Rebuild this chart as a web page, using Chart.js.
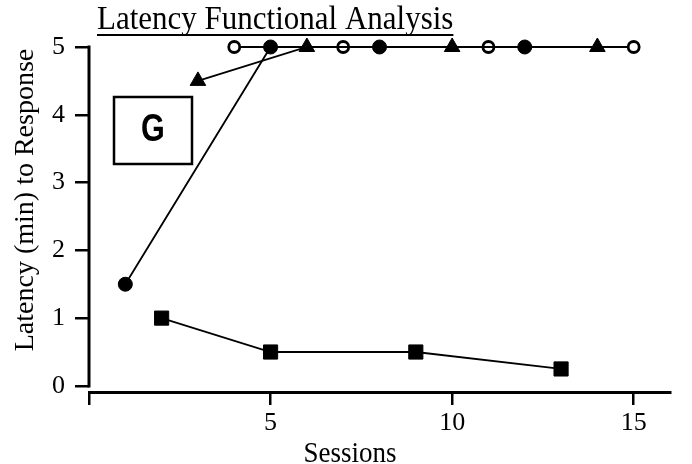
<!DOCTYPE html>
<html>
<head>
<meta charset="utf-8">
<title>Latency Functional Analysis</title>
<script src="https://cdn.jsdelivr.net/npm/chart.js@4"></script>
<style>
  html, body { margin: 0; padding: 0; background: #fff; }
  #chart { display: block; }
</style>
</head>
<body>
<canvas id="chart" width="692" height="464"></canvas>
<script>
// Sessions / latency (min) per condition
const filledCircleSessions = [1, 5, 8, 12];
const filledCircleLatency  = [1.5, 5, 5, 5];
const triangleSessions     = [3, 6, 10, 14];
const triangleLatency      = [4.5, 5, 5, 5];
const openCircleSessions   = [4, 7, 11, 15];
const openCircleLatency    = [5, 5, 5, 5];
const squareSessions       = [2, 5, 9, 13];
const squareLatency        = [1, 0.5, 0.5, 0.25];

const xTicks = [0, 5, 10, 15];
const yTicks = [0, 1, 2, 3, 4, 5];

const SERIF = "'Liberation Serif', 'Times New Roman', serif";

const toPoints = (xs, ys) => xs.map((x, i) => ({ x, y: ys[i] }));

const series = (xs, ys, style, radius, bg) => ({
  data: toPoints(xs, ys),
  borderColor: '#000',
  borderWidth: 1.8,
  pointStyle: style,
  pointRadius: radius,
  pointBackgroundColor: bg,
  pointBorderColor: '#000',
  pointBorderWidth: bg === '#fff' ? 2.8 : 1,
  showLine: true,
  fill: false,
  tension: 0,
  clip: false
});

// axis line, titles, panel label
const decorations = {
  id: 'decorations',
  afterDraw(chart) {
    const { ctx, chartArea, scales } = chart;
    ctx.save();
    ctx.strokeStyle = '#000';
    ctx.fillStyle = '#000';

    // y axis line (stops at 0, x axis sits a bit lower)
    ctx.lineWidth = 3;
    ctx.beginPath();
    ctx.moveTo(chartArea.left, scales.y.getPixelForValue(5) - 1.5);
    ctx.lineTo(chartArea.left, scales.y.getPixelForValue(0) + 1.5);
    ctx.stroke();

    // title + underline (type in the source is a bit tall)
    ctx.save();
    ctx.translate(97, 29);
    ctx.scale(1, 1.12);
    ctx.font = `31px ${SERIF}`;
    ctx.textAlign = 'left';
    ctx.textBaseline = 'alphabetic';
    const title = 'Latency Functional Analysis';
    ctx.fillText(title, 0, 0);
    const w = ctx.measureText(title).width;
    ctx.restore();
    ctx.lineWidth = 2;
    ctx.beginPath();
    ctx.moveTo(97, 35);
    ctx.lineTo(97 + w, 35);
    ctx.stroke();

    // x title
    ctx.save();
    ctx.translate(350, 462);
    ctx.scale(1, 1.1);
    ctx.font = `27px ${SERIF}`;
    ctx.textAlign = 'center';
    ctx.fillText('Sessions', 0, 0);
    ctx.restore();

    // y title
    ctx.save();
    ctx.translate(33, 200);
    ctx.rotate(-Math.PI / 2);
    ctx.font = `28px ${SERIF}`;
    ctx.textAlign = 'center';
    ctx.fillText('Latency (min) to Response', 0, 0);
    ctx.restore();

    // panel label
    ctx.lineWidth = 2.5;
    ctx.strokeRect(114, 97, 78, 67);
    ctx.save();
    ctx.translate(153, 141);
    ctx.scale(0.85, 1.1);
    ctx.font = "bold 36px 'Liberation Sans', Arial, sans-serif";
    ctx.textAlign = 'center';
    ctx.textBaseline = 'alphabetic';
    ctx.fillText('G', 0, 0);
    ctx.restore();

    ctx.restore();
  }
};

new Chart(document.getElementById('chart'), {
  type: 'scatter',
  data: {
    datasets: [
      series(filledCircleSessions, filledCircleLatency, 'circle', 7, '#000'),
      series(triangleSessions, triangleLatency, 'triangle', 9, '#000'),
      series(openCircleSessions, openCircleLatency, 'circle', 5.5, '#fff'),
      series(squareSessions, squareLatency, 'rect', 10, '#000')
    ]
  },
  options: {
    responsive: false,
    animation: false,
    layout: { padding: { top: 47, right: 22, bottom: 0, left: 0 } },
    plugins: {
      legend: { display: false },
      title: { display: false },
      tooltip: { enabled: false }
    },
    scales: {
      x: {
        type: 'linear',
        min: 0,
        max: 16,
        afterBuildTicks: (axis) => { axis.ticks = xTicks.map(v => ({ value: v })); },
        afterFit: (scale) => { scale.height = 72; },
        border: { display: true, color: '#000', width: 3 },
        grid: { drawOnChartArea: false, drawTicks: true, tickLength: 13, color: '#000', lineWidth: 2.5 },
        ticks: {
          color: '#000',
          font: { family: SERIF, size: 26 },
          padding: 3,
          maxRotation: 0,
          autoSkip: false,
          callback: (v) => (v === 0 ? '' : v)
        }
      },
      y: {
        type: 'linear',
        min: -0.09,
        max: 5,
        afterBuildTicks: (axis) => { axis.ticks = yTicks.map(v => ({ value: v })); },
        afterFit: (scale) => { scale.width = 89; },
        border: { display: false },
        grid: { drawOnChartArea: false, drawTicks: true, tickLength: 14, color: '#000', lineWidth: 2.5 },
        ticks: {
          color: '#000',
          font: { family: SERIF, size: 26 },
          padding: 10,
          autoSkip: false
        }
      }
    }
  },
  plugins: [decorations]
});
</script>
</body>
</html>
